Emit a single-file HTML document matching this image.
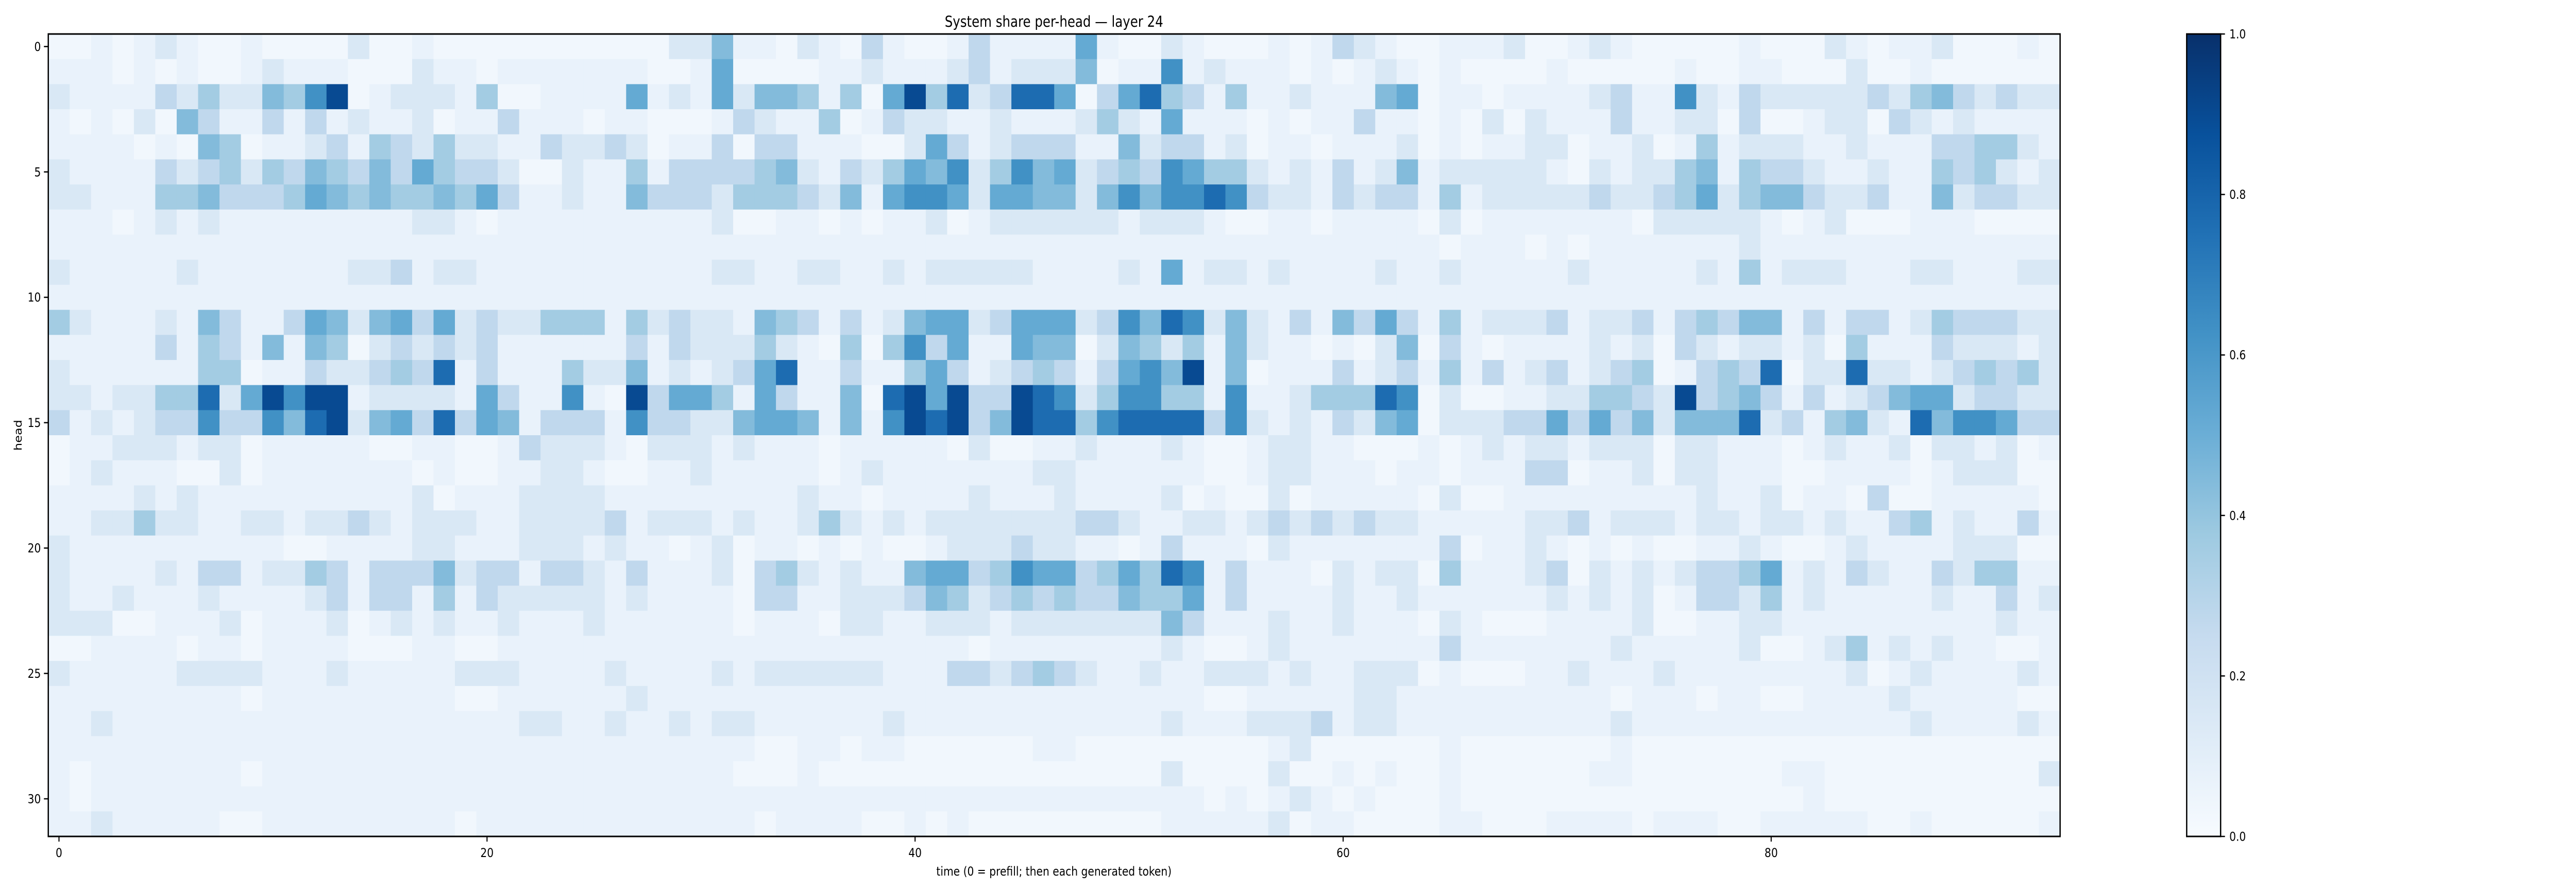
<!DOCTYPE html>
<html><head><meta charset="utf-8"><title>System share per-head — layer 24</title>
<style>
html,body{margin:0;padding:0;background:#fff;width:100vw;height:100vh;overflow:hidden;}
svg{display:block;font-family:"DejaVu Sans","Liberation Sans",sans-serif;width:100vw;height:100vh;}
</style></head>
<body>
<svg id="chart" viewBox="0 0 5922 1728" preserveAspectRatio="none" xmlns="http://www.w3.org/2000/svg">
<defs>
<linearGradient id="blues" x1="0" y1="1" x2="0" y2="0">
<stop offset="0" stop-color="#f7fbff"/><stop offset="0.125" stop-color="#deebf7"/><stop offset="0.25" stop-color="#c6dbef"/><stop offset="0.375" stop-color="#9ecae1"/><stop offset="0.5" stop-color="#6baed6"/><stop offset="0.625" stop-color="#4292c6"/><stop offset="0.75" stop-color="#2171b5"/><stop offset="0.875" stop-color="#08519c"/><stop offset="1" stop-color="#08306b"/>
</linearGradient>
</defs>
<rect width="5922" height="1728" fill="#fff"/>
<g id="cells"></g>
<rect x="111" y="66" width="4625" height="1558" fill="none" stroke="#000" stroke-width="3"/>
<g id="xticks"></g>
<g id="yticks"></g>
<text x="2423" y="52" font-size="29" text-anchor="middle">System share per-head — layer 24</text>
<text x="2423" y="1700" font-size="24" text-anchor="middle">time (0 = prefill; then each generated token)</text>
<text x="50" y="845" font-size="24" text-anchor="middle" transform="rotate(-90 50 845)">head</text>
<rect x="5027" y="66" width="78" height="1558" fill="url(#blues)" stroke="#000" stroke-width="3"/>
<g id="cbticks"></g>
</svg>
<script>
// value levels: each digit in a row string indexes this array
const levels = [0.03,0.07,0.15,0.27,0.36,0.44,0.52,0.63,0.77,0.9];
const xTickValues = [0,20,40,60,80];
const yTickValues = [0,5,10,15,20,25,30];
const cbTickValues = [0.0,0.2,0.4,0.6,0.8,1.0];
const rowsA = [
"00101210010000200100000000000225",
"11101010012111000211011111110016",
"21111324225479012221400111161216",
"1010205311 3131211201 1311101100 01",
"1111010540 1123143242 2113223201 13",
"2111132342 4354353643 3200211413 33",
"2211144533 3465454454 6311211533 32",
"1110121211 1111111221 0111111111 12",
"1111111111 1111111111 1111111111 11",
"2111112111 1111223122 1111111111 12",
"1111111111 1111111111 1111111111 11",
"4211121531 1365256362 3224441423 22",
"1111131431 5154023232 3111111313 22",
"2111111440 1132234381 3111422512 12",
"2212244826 9799122221 6311710936 64",
"3121233733 7589256383 6513331733 22",
"0112221220 1111100110 0132221022 21",
"0121110020 1111111010 0112210011 21",
"1111212111 1111111201 1122221111 11",
"1122422112 2122321222 1122223122 21",
"2111111111 1001111221 1122212110 12",
"2111121331 2243133352 3313321311 12",
"2112111211 1123133141 3222221211 11",
"2220011120 1112012121 1211121111 11",
"0011110110 1111000110 0111111111 11",
"2111112222 1112111112 2211112111 12",
"1111111110 1111111110 0111111211 11",
"1121111111 1111111111 1122112112 12",
"1111111111 1111111111 1111111111 11",
"1011111110 1111111111 1111111111 11",
"1011111111 1111111111 1111111111 11",
"1121111100 1111111110 1111111111 11"
];
const rowsB = [
"1102103100 1311116100 2100010132 1",
"0000112111 2312225011 7121110101 2",
"2554140694 8238860368 4314112111 5",
"3211401322 1121112421 6111010113 1",
"0331110026 3123331152 3312011011 1",
"3452132465 7247562343 7644212131 2",
"4443251677 6266552575 7787322132 3",
"0011010112 0122222212 2210011011 1",
"1111111111 1111111111 1111111111 1",
"2112211212 2222111121 6122121111 2",
"1111111111 1111111111 1111111111 1",
"1543131256 6236662375 8725213153 6",
"2421040473 6116550254 2415211010 2",
"3681131146 3123431367 5915011131 2",
"1631150896 9339872477 4417112444 8",
"5665151798 9359884788 8837212132 5",
"2111011111 0200112111 2100122110 0",
"1111012111 1111221111 1100122111 0",
"1112110111 1211121111 2010020111 1",
"2112421212 2222223321 1221232323 2",
"0110101001 2223221101 3111021111 1",
"0342121156 6347663464 8713111021 2",
"0331122235 4234343354 4613111121 1",
"0111022112 2212222222 5311121121 1",
"1111111111 1011111111 2100121111 1",
"1222222111 3323432112 1122212112 2",
"1111111111 1111111111 1100111112 2",
"2111111211 1111111111 2111222312 2",
"1001101100 0000110000 0000012000 0",
"0001000000 0000000000 2000020010 1",
"1111111111 1111111111 1101012101 0",
"1011110010 1000000000 1111120110 0"
];
const rowsC = [
"0011120012 1000001000 2101120001 0",
"1010000100 0001001100 0200100000 0",
"6011011112 3117213222 2232453232 2",
"1010202111 3112203001 2203212111 1",
"2010112201 1201412221 1211133442 1",
"5122222102 1224514332 1121143421 2",
"3141222223 2234624553 2231152332 2",
"1020111111 1022222101 2000111000 0",
"1101110101 1111112111 1111111111 1",
"1121111121 1111214122 2111221112 2",
"1111111111 1111111111 1111111111 1",
"3141222312 2313435513 1331243332 2",
"5031011112 1203212212 0411132221 2",
"3141312312 3401343802 2822123434 2",
"7020011224 4329345313 1235662332 2",
"6022233636 3525558231 4521857763 3",
"0101212212 2202211101 2112022120 1",
"1101113301 1202211100 1111012220 0",
"1020011111 1111211201 1030011111 0",
"2111112231 2221221221 2113412113 1",
"1130112101 0100112100 1211112220 0",
"2041112302 1212334612 1321132441 1",
"2111111212 1201332412 1111121131 2",
"1021000111 1200112211 1111111121 1",
"1131111111 2111112001 2412121100 1",
"2010001121 1121111111 1201211112 1",
"1111111111 0111011001 1112111110 0",
"1111111111 2111111111 1111211112 1",
"0010000000 1000000000 0000000000 0",
"0010000001 1000000011 0000000000 2",
"0010000000 0000000001 0000000000 0",
"0011000111 1011100111 1100100000 1"
];

const NS = "http://www.w3.org/2000/svg";
const X0 = 111, X1 = 4736, Y0 = 66, Y1 = 1624;
const NCOL = 94, NROW = 32;
const cw = (X1 - X0) / NCOL, ch = (Y1 - Y0) / NROW;
function xPos(col){ return X0 + col * cw; }
function yPos(row){ return Y0 + row * ch; }
const stops = ["#f7fbff","#deebf7","#c6dbef","#9ecae1","#6baed6","#4292c6","#2171b5","#08519c","#08306b"];
function hex(c){ return [parseInt(c.substr(1,2),16),parseInt(c.substr(3,2),16),parseInt(c.substr(5,2),16)]; }
function color(v){
  v = Math.max(0, Math.min(1, v));
  const p = v * 8, i = Math.min(7, Math.floor(p)), t = p - i;
  const a = hex(stops[i]), b = hex(stops[i+1]);
  return "rgb(" + a.map((x,k)=>Math.round(x + (b[k]-x)*t)).join(",") + ")";
}
function mk(tag, attrs){ const e = document.createElementNS(NS, tag); for (const k in attrs) e.setAttribute(k, attrs[k]); return e; }

const cells = document.getElementById("cells");
for (let r = 0; r < NROW; r++) {
  let s = (rowsA[r] + rowsB[r] + rowsC[r]).replace(/ /g, "");
  while (s.length < NCOL) s += "1";
  s = s.slice(0, NCOL);
  for (let c = 0; c < NCOL; c++) {
    const v = levels[parseInt(s[c], 10)];
    const w = (c === NCOL - 1) ? cw : cw + 0.6;
    const h = (r === NROW - 1) ? ch : ch + 0.6;
    const rect = mk("rect", {x: xPos(c).toFixed(2), y: yPos(r).toFixed(2), width: w.toFixed(2), height: h.toFixed(2), fill: color(v)});
    
    
    cells.appendChild(rect);
  }
}

const xg = document.getElementById("xticks");
xTickValues.forEach(v => {
  const x = xPos(v + 0.5);
  const ln = mk("line", {x1: x, y1: Y1, x2: x, y2: Y1 + 10, stroke: "#000", "stroke-width": 2.5});
  
  
  xg.appendChild(ln);
  const t = mk("text", {x: x, y: Y1 + 40, "font-size": 24, "text-anchor": "middle"});
  
  
  t.textContent = v;
  xg.appendChild(t);
});
const yg = document.getElementById("yticks");
yTickValues.forEach(v => {
  const y = yPos(v + 0.5);
  const ln = mk("line", {x1: X0 - 10, y1: y, x2: X0, y2: y, stroke: "#000", "stroke-width": 2.5});
  
  
  yg.appendChild(ln);
  const t = mk("text", {x: X0 - 17, y: y + 8.5, "font-size": 24, "text-anchor": "end"});
  
  
  t.textContent = v;
  yg.appendChild(t);
});
const cg = document.getElementById("cbticks");
const CB0 = 66, CB1 = 1624, CBX = 5105;
cbTickValues.forEach(v => {
  const y = CB1 - v * (CB1 - CB0);
  const ln = mk("line", {x1: CBX, y1: y, x2: CBX + 10, y2: y, stroke: "#000", "stroke-width": 2.5});
  
  
  cg.appendChild(ln);
  const t = mk("text", {x: CBX + 20, y: y + 8.5, "font-size": 24, "text-anchor": "start"});
  
  
  t.textContent = v.toFixed(1);
  cg.appendChild(t);
});
</script>
</body></html>
